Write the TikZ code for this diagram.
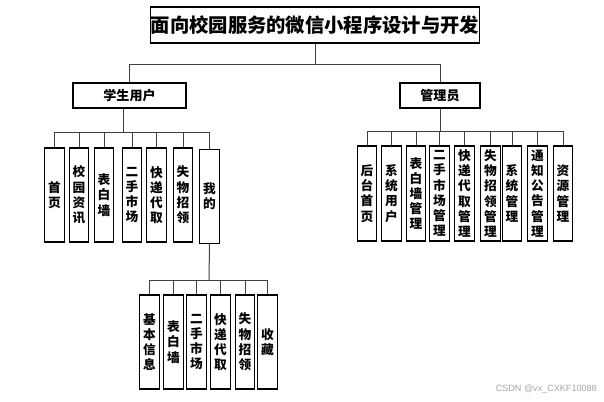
\documentclass[tikz,border=0pt]{standalone}
\usepackage{fontspec}
\setmainfont{Noto Sans CJK SC}
\newfontfamily\wmfont{Liberation Sans}
\begin{document}
\begin{tikzpicture}[x=0.75pt,y=-0.75pt,
  box/.style={draw=black,line width=0.9pt,fill=white,inner sep=0pt,font=\bfseries},
  vbox/.style={box,minimum width=14.6pt,align=center,font=\bfseries\fontsize{9.5}{11.4}\selectfont},
  conn/.style={draw=black!75,line width=0.75pt},
  shadow/.style={draw=black!25,line width=1pt}]
\useasboundingbox (0,0) rectangle (604,401);
\fill[white] (0,0) rectangle (604,401);
% title
\node[box,minimum width=241.5pt,minimum height=27pt,font=\bfseries\fontsize{14.5}{16}\selectfont] (title) at (315,25) {面向校园服务的微信小程序设计与开发};
% level 2
\node[box,minimum width=84.8pt,minimum height=18.8pt,font=\bfseries\fontsize{9.8}{11}\selectfont] (stu) at (129.5,95.5) {学生用户};
\node[box,minimum width=60pt,minimum height=18.8pt,font=\bfseries\fontsize{9.8}{11}\selectfont] (adm) at (440,95.5) {管理员};
\coordinate (b0) at (315,64);
\draw[conn] (title.south) -- (b0);
\draw[conn] (stu.north) |- (b0);
\draw[conn] (adm.north) |- (b0);
% student children
\begin{scope}[every node/.style={vbox,minimum height=70.5pt}]
\node (s1) at (54.5,195) {首\\页};
\node (s2) at (79,195) {校\\园\\资\\讯};
\node (s3) at (104,195) {表\\白\\墙};
\node (s4) at (132,195) {二\\手\\市\\场};
\node (s5) at (156.5,195) {快\\递\\代\\取};
\node (s6) at (183,195) {失\\物\\招\\领};
\node (s7) at (209.5,196.5) {我\\的};
\end{scope}
\coordinate (bs) at (123,132);
\draw[conn] (stu.south -| bs) -- (bs);
\foreach \n in {s1,s2,s3,s4,s5,s6,s7} \draw[conn] (\n.north) |- (bs);
% admin children
\begin{scope}[every node/.style={vbox,minimum height=71.3pt}]
\node (a1) at (367,193.5) {后\\台\\首\\页};
\node (a2) at (391.5,193.5) {系\\统\\用\\户};
\node (a3) at (416,193.5) {表\\白\\墙\\管\\理};
\node (a4) at (439.5,193.5) {二\\手\\市\\场\\管\\理};
\node (a5) at (464.5,193.5) {快\\递\\代\\取\\管\\理};
\node (a6) at (490.5,193.5) {失\\物\\招\\领\\管\\理};
\node (a7) at (512,193.5) {系\\统\\管\\理};
\node (a8) at (537.5,193.5) {通\\知\\公\\告\\管\\理};
\node (a9) at (563,193.5) {资\\源\\管\\理};
\end{scope}
\coordinate (ba) at (440,131);
\draw[conn] (adm.south) -- (ba);
\foreach \n in {a1,a2,a3,a4,a5,a6,a7,a8,a9} \draw[conn] (\n.north) |- (ba);
% third level
\begin{scope}[every node/.style={vbox,minimum height=70.5pt}]
\node (m1) at (149.5,342) {基\\本\\信\\息};
\node (m2) at (173.5,342) {表\\白\\墙};
\node (m3) at (196.5,342) {二\\手\\市\\场};
\node (m4) at (220.5,342) {快\\递\\代\\取};
\node (m5) at (245,342) {失\\物\\招\\领};
\node (m6) at (267.5,342) {收\\藏};
\end{scope}
\coordinate (bm) at (209,280);
\draw[conn] (s7.south) -- (bm);
\foreach \n in {m1,m2,m3,m4,m5,m6} \draw[conn] (\n.north) |- (bm);
% watermark
\node[font=\wmfont\fontsize{6.8}{8}\selectfont,text=black!35,anchor=east,inner sep=0pt] (wm) at (597,389) {CSDN @vx\_CXKF10088};
\end{tikzpicture}
\end{document}
